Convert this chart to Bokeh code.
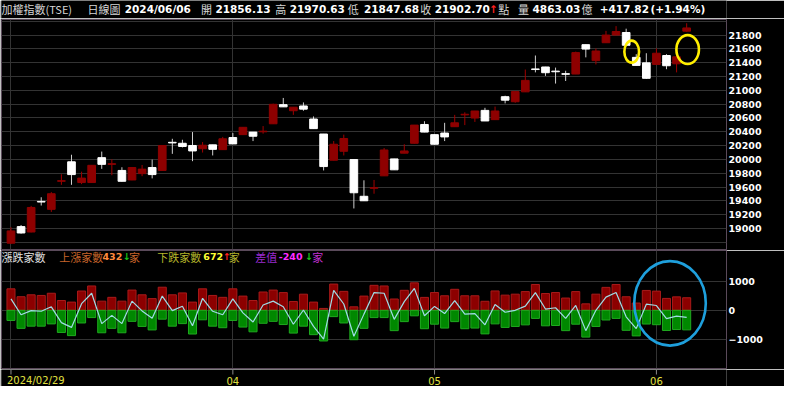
from bokeh.plotting import figure
from bokeh.models import Range1d, LinearAxis, FixedTicker, Label, ColumnDataSource
from bokeh.layouts import column
from bokeh.embed import file_html
from bokeh.resources import INLINE

# ---------------- data ----------------
dates = [
    "2024/02/29",
    "2024/03/01", "2024/03/04", "2024/03/05", "2024/03/06", "2024/03/07", "2024/03/08",
    "2024/03/11", "2024/03/12", "2024/03/13", "2024/03/14", "2024/03/15",
    "2024/03/18", "2024/03/19", "2024/03/20", "2024/03/21", "2024/03/22",
    "2024/03/25", "2024/03/26", "2024/03/27", "2024/03/28", "2024/03/29",
    "2024/04/01", "2024/04/02", "2024/04/03", "2024/04/08", "2024/04/09", "2024/04/10",
    "2024/04/11", "2024/04/12", "2024/04/15", "2024/04/16", "2024/04/17", "2024/04/18",
    "2024/04/19", "2024/04/22", "2024/04/23", "2024/04/24", "2024/04/25", "2024/04/26",
    "2024/04/29", "2024/04/30",
    "2024/05/02", "2024/05/03", "2024/05/06", "2024/05/07", "2024/05/08", "2024/05/09",
    "2024/05/10", "2024/05/13", "2024/05/14", "2024/05/15", "2024/05/16", "2024/05/17",
    "2024/05/20", "2024/05/21", "2024/05/22", "2024/05/23", "2024/05/24", "2024/05/27",
    "2024/05/28", "2024/05/29", "2024/05/30", "2024/05/31",
    "2024/06/03", "2024/06/04", "2024/06/05", "2024/06/06",
]
opens = [18788, 19028, 18950, 19393, 19278, 19684, 19966, 19666, 19666, 20026,
         19929, 19841, 19703, 19795, 19883, 19841, 20248, 20234, 20202, 20155,
         20211, 20142, 20317, 20359, 20396, 20400, 20516, 20793, 20705, 20774,
         20585, 20368, 19989, 20118, 19998, 19467, 19582, 19763, 20008, 20091,
         20234, 20506, 20359, 20382, 20474, 20645, 20599, 20710, 20576, 20908,
         20835, 20978, 21310, 21338, 21278, 21241, 21236, 21661, 21430, 21689,
         21800, 21837, 21477, 21398, 21375, 21504, 21384, 21856.13]
highs = [19019, 19051, 19328, 19453, 19527, 19786, 20068, 19823, 19918, 20114,
         20003, 19887, 19884, 19920, 19998, 20203, 20299, 20285, 20396, 20252,
         20212, 20326, 20382, 20466, 20397, 20483, 20807, 20890, 20757, 20825,
         20622, 20369, 20266, 20359, 20000, 19698, 19703, 20165, 20009, 20220,
         20499, 20553, 20360, 20530, 20645, 20682, 20702, 20747, 20765, 20922,
         20984, 21301, 21504, 21340, 21329, 21283, 21560, 21663, 21606, 21860,
         21929, 21892, 21523, 21537, 21606, 21523, 21500, 21970.63]
lows = [18780, 18926, 18945, 19333, 19241, 19633, 19633, 19643, 19662, 19864,
        19772, 19680, 19700, 19758, 19726, 19838, 20081, 20174, 19975, 20100,
        20058, 20140, 20223, 20356, 20266, 20373, 20514, 20759, 20645, 20705,
        20445, 19841, 19988, 20058, 19291, 19400, 19504, 19761, 19849, 20089,
        20232, 20394, 20218, 20266, 20472, 20497, 20543, 20556, 20574, 20811,
        20821, 20976, 21260, 21209, 21098, 21135, 21235, 21477, 21375, 21688,
        21798, 21650, 21359, 21165, 21373, 21306, 21260, 21847.68]
closes = [18966, 18936, 19305, 19384, 19504, 19693, 19781, 19730, 19915, 19929,
          19938, 19684, 19883, 19860, 19781, 20202, 20239, 20188, 20123, 20206,
          20146, 20299, 20225, 20465, 20336, 20409, 20798, 20761, 20756, 20728,
          20446, 19897, 20220, 20303, 19518, 19402, 19592, 20137, 19850, 20123,
          20497, 20396, 20220, 20326, 20530, 20654, 20701, 20557, 20701, 20858,
          20982, 21144, 21301, 21255, 21269, 21232, 21546, 21597, 21569, 21800,
          21851, 21652, 21361, 21174, 21537, 21356, 21484.88, 21902.70]
volume_yi = 4863.03  # 億

# advancing / declining issues (家數)
ups = [739, 467, 533, 511, 587, 337, 283, 663, 837, 315,
       446, 315, 696, 533, 402, 794, 533, 598, 283, 739,
       511, 446, 739, 489, 337, 630, 696, 609, 304, 554,
       283, 65, 902, 652, 120, 489, 859, 837, 389, 688,
       944, 444, 611, 500, 722, 500, 500, 311, 666, 522,
       555, 644, 888, 577, 611, 422, 644, 222, 555, 788,
       888, 466, 250, 683, 660, 409, 462, 432]
downs = [348, 620, 544, 544, 467, 761, 870, 435, 250, 772,
         620, 772, 380, 554, 674, 304, 544, 457, 815, 326,
         544, 598, 348, 576, 739, 446, 380, 489, 783, 544,
         837, 1054, 217, 435, 1011, 620, 250, 250, 699, 389,
         189, 633, 477, 611, 389, 633, 611, 810, 466, 588,
         555, 500, 278, 533, 522, 699, 477, 921, 555, 333,
         278, 688, 880, 472, 495, 693, 660, 672]

price_ticks = list(range(19000, 21801, 200))
price_grid = list(range(18800, 22001, 200))
breadth_ticks = [-1000, 0, 1000]
month_tick_idx = [0, 22, 42, 64]
month_tick_labels = ["2024/02/29", "04", "05", "06"]

# highlight marks (index, value, width px, height px)
gap_marks = [(61.55, 21560, 15, 23), (67.1, 21590, 23, 30)]
breadth_mark = (65.35, 240, 73, 88)

# ---------------- styling / geometry ----------------
SX, SY = 784 / 800, 386 / 402
W = 784
BG = "#000000"
OUTLINE = "#5a4a5a"
GRID = "#333333"
RED_BODY = "#8e0000"
RED_WICK = "#a00000"
WHITE_BODY = "#ffffff"
WHITE_WICK = "#cfcfcf"
NUM_FONT = "DejaVu Sans"
CJK_FONT = "Noto Sans CJK TC"

n = len(dates)
idx = list(range(n))
x_range = Range1d(-0.94, 70.95)


def make_fig(height, y_range, top, bottom, outline=OUTLINE):
    p = figure(width=W, height=height, x_range=x_range, y_range=y_range,
               output_backend="svg", toolbar_location=None,
               x_axis_location=None, y_axis_location=None,
               min_border_left=1, min_border_right=58,
               min_border_top=top, min_border_bottom=bottom,
               background_fill_color=BG, border_fill_color=BG,
               outline_line_color=outline, outline_line_width=1)
    p.xgrid.ticker = FixedTicker(ticks=month_tick_idx)
    p.xgrid.grid_line_color = GRID
    p.ygrid.grid_line_color = GRID
    return p


def right_axis(p, ticks):
    ax = LinearAxis(ticker=FixedTicker(ticks=ticks))
    ax.axis_line_color = None
    ax.major_tick_line_color = None
    ax.minor_tick_line_color = None
    ax.major_tick_out = 0
    ax.major_label_standoff = 2
    ax.major_label_text_color = "#ffffff"
    ax.major_label_text_font = NUM_FONT
    ax.major_label_text_font_style = "bold"
    ax.major_label_text_font_size = "9.5px"
    p.add_layout(ax, "right")


def txt(p, text, x, y, color, font, size, bold=False, align="left", x_offset=0):
    p.add_layout(Label(x=x, y=y, x_units="data", y_units="data", text=text,
                       x_offset=x_offset, text_color=color, text_font=font,
                       text_font_size=size,
                       text_font_style="bold" if bold else "normal",
                       text_align=align, text_baseline="middle"))


# ---------------- header strip ----------------
H0 = 18
p0 = figure(width=W, height=H0, x_range=Range1d(0, W), y_range=Range1d(0, H0),
            output_backend="svg", toolbar_location=None,
            x_axis_location=None, y_axis_location=None,
            min_border_left=0, min_border_right=0, min_border_top=0, min_border_bottom=0,
            background_fill_color=BG, border_fill_color=BG, outline_line_color=None)
p0.grid.grid_line_color = None

CJK_C = "#d6d6d6"
change = closes[-1] - closes[-2]
pct = change / closes[-2] * 100
header = [
    ("加權指數(TSE)", 0, "cjk", CJK_C),
    ("日線圖", 95, "cjk", CJK_C),
    (dates[-1], 136, "num", "#ffffff"),
    ("開", 220, "cjk", CJK_C),
    (f"{opens[-1]:.2f}", 236, "num", "#ffffff"),
    ("高", 302, "cjk", CJK_C),
    (f"{highs[-1]:.2f}", 318, "num", "#ffffff"),
    ("低", 382, "cjk", CJK_C),
    (f"{lows[-1]:.2f}", 400, "num", "#ffffff"),
    ("收", 462, "cjk", CJK_C),
    (f"{closes[-1]:.2f}", 478, "num", "#ffffff"),
    ("↑", 538, "num", "#ff2020"),
    ("點", 548, "cjk", CJK_C),
    ("量", 570, "cjk", CJK_C),
    (f"{volume_yi:.2f}", 586, "num", "#ffffff"),
    ("億", 640, "cjk", CJK_C),
    (f"{change:+.2f}", 660, "num", "#ffffff"),
    (f"({pct:+.2f}%)", 716, "num", "#ffffff"),
]
hy = H0 - 9 * SY
for t, rx, kind, col in header:
    if kind == "cjk":
        txt(p0, t, rx * SX, hy, col, CJK_FONT, "11px")
    else:
        txt(p0, t, rx * SX, hy, col, NUM_FONT, "10.5px", bold=True)

# ---------------- upper: candles ----------------
p1 = make_fig(232, Range1d(18697, 22025), 1, 1)
p1.ygrid.ticker = FixedTicker(ticks=price_grid)
right_axis(p1, price_ticks)

is_up = [c >= o for o, c in zip(opens, closes)]
src = ColumnDataSource(dict(
    x=idx, h=highs, l=lows,
    top=[max(o, c) for o, c in zip(opens, closes)],
    bottom=[min(o, c) for o, c in zip(opens, closes)],
    fill=[RED_BODY if u else WHITE_BODY for u in is_up],
    wick=[RED_WICK if u else WHITE_WICK for u in is_up],
))
p1.segment(x0="x", y0="h", x1="x", y1="l", line_color="wick", line_width=1, source=src)
p1.vbar(x="x", width=0.76, top="top", bottom="bottom", fill_color="fill",
        line_color="fill", line_width=1, source=src)

for gx, gy, gw, gh in gap_marks:
    p1.ellipse(x=[gx], y=[gy], width=gw * SX, height=gh * SY,
               width_units="screen", height_units="screen",
               fill_color=None, line_color="#ffee00", line_width=2.6)

# ---------------- lower: breadth ----------------
p2 = make_fig(119, Range1d(-2000, 2056), 0, 1)
p2.ygrid.ticker = FixedTicker(ticks=breadth_ticks)
right_axis(p2, breadth_ticks)

src2 = ColumnDataSource(dict(
    x=idx, up=ups, dn=[-d for d in downs], diff=[u - d for u, d in zip(ups, downs)]
))
p2.vbar(x="x", width=0.8, top="up", bottom=0, fill_color="#8c0000",
        line_color="#a81a1a", line_width=1, source=src2)
p2.vbar(x="x", width=0.8, top=0, bottom="dn", fill_color="#008800",
        line_color="#1fa81f", line_width=1, source=src2)
p2.line("x", "diff", line_color="#a0dce6", line_width=1.2, source=src2)

bxm, bym, bw, bh = breadth_mark
p2.ellipse(x=[bxm], y=[bym], width=bw * SX, height=bh * SY,
           width_units="screen", height_units="screen",
           fill_color=None, line_color="#1e9fdc", line_width=2.6)

# legend row inside the lower panel (screen units relative to frame)
F2 = 118
ly = F2 - (267 * SY - 250)


def put2(text, rx, color, font, size, bold=False):
    p2.add_layout(Label(x=max(rx * SX - 1, 0), y=ly, x_units="screen", y_units="screen",
                        text=text, text_color=color, text_font=font, text_font_size=size,
                        text_font_style="bold" if bold else "normal",
                        text_align="left", text_baseline="middle"))


ARROW_DN, ARROW_UP = "#18c018", "#ff2020"
put2("漲跌家數", 0, "#e0e0e0", CJK_FONT, "11px")
put2("上漲家數", 60, "#c8642a", CJK_FONT, "11px")
put2(f"{ups[-1]}", 104, "#ff8a3d", NUM_FONT, "9.5px", True)
put2("↓", 125, ARROW_DN, NUM_FONT, "9.5px", True)
put2("家", 131, "#c8642a", CJK_FONT, "11px")
put2("下跌家數", 160, "#b5b52a", CJK_FONT, "11px")
put2(f"{downs[-1]}", 207, "#ffff33", NUM_FONT, "9.5px", True)
put2("↑", 227, ARROW_UP, NUM_FONT, "9.5px", True)
put2("家", 233, "#b5b52a", CJK_FONT, "11px")
put2("差值", 260, "#9a2ad0", CJK_FONT, "11px")
put2(f"{ups[-1] - downs[-1]}", 284, "#ff2cff", NUM_FONT, "9.5px", True)
put2("↓", 311, ARROW_DN, NUM_FONT, "9.5px", True)
put2("家", 318, "#c030d0", CJK_FONT, "11px")

# ---------------- x-axis strip (ticks + date labels) ----------------
H3 = 386 - 18 - 232 - 119
p3 = make_fig(H3, Range1d(0, H3), 0, 0, outline=None)
p3.grid.grid_line_color = None
p3.segment(x0=month_tick_idx, y0=[H3] * 4, x1=month_tick_idx, y1=[H3 - 5] * 4,
           line_color="#8a8a8a", line_width=1)
for k, (ti, lab) in enumerate(zip(month_tick_idx, month_tick_labels)):
    txt(p3, lab, ti, H3 - (396 * SY - 369), "#e0e040", NUM_FONT, "10px",
        align="left" if k == 0 else "center", x_offset=-4 if k == 0 else 0)

layout = column(p0, p1, p2, p3, spacing=0)
open("out.html", "w").write(file_html(layout, INLINE))
